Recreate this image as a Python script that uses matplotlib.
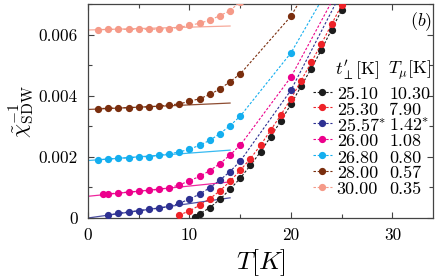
import matplotlib
matplotlib.use("Agg")
import matplotlib.pyplot as plt
from matplotlib.ticker import MultipleLocator, FuncFormatter
from matplotlib.lines import Line2D

plt.rcParams['font.family'] = 'serif'
plt.rcParams['font.serif'] = ['cmr10']
plt.rcParams['mathtext.fontset'] = 'cm'
plt.rcParams['axes.formatter.use_mathtext'] = True

# ---- data ----
tperp_labels = ["25.10", "25.30", "25.57$^{*}$", "26.00", "26.80", "28.00", "30.00"]
tmu_labels = ["10.30", "7.90", "1.42$^{*}$", "1.08", "0.80", "0.57", "0.35"]
colors = ["#1c1c1c", "#ee2228", "#2e3192", "#ec008c", "#14aeef", "#7a2e0e", "#f59a88"]

T_black = [10.5, 11, 12, 13, 14, 15, 16, 17, 18, 19, 20, 21, 22, 23, 24, 25, 26]
y_black = [0.00002, 0.00013, 0.00034, 0.00061, 0.00094, 0.00130, 0.00172, 0.00216,
           0.00266, 0.00317, 0.00372, 0.00431, 0.00489, 0.00550, 0.00616, 0.00680, 0.00744]

T_red = [9, 10, 11, 12, 13, 14, 15, 16, 17, 18, 19, 20, 21, 22, 23, 24, 25, 26]
y_red = [0.00010, 0.00023, 0.00042, 0.00063, 0.00089, 0.00120, 0.00156, 0.00194,
         0.00238, 0.00287, 0.00337, 0.00390, 0.00449, 0.00509, 0.00570, 0.00633, 0.00697, 0.00760]

T_blue = [2, 3, 4, 5, 6, 7, 8, 9, 10, 11, 12, 13, 14, 15, 20, 25]
y_blue = [0.00010, 0.00015, 0.00020, 0.00024, 0.00028, 0.00032, 0.00038, 0.00048,
          0.00062, 0.00078, 0.00099, 0.00124, 0.00152, 0.00186, 0.00418, 0.00740]

T_mag = [1.5, 2, 3, 4, 5, 6, 7, 8, 9, 10, 11, 12, 13, 14, 15, 20, 25]
y_mag = [0.00078, 0.00079, 0.00082, 0.00085, 0.00087, 0.00090, 0.00094, 0.00099,
         0.00108, 0.00122, 0.00136, 0.00155, 0.00178, 0.00206, 0.00238, 0.00461, 0.00768]

T_cyan = [1, 2, 3, 4, 5, 6, 7, 8, 9, 10, 11, 12, 13, 14, 15, 20, 25]
y_cyan = [0.00190, 0.00193, 0.00195, 0.00197, 0.00199, 0.00201, 0.00205, 0.00210,
          0.00216, 0.00225, 0.00238, 0.00254, 0.00276, 0.00302, 0.00333, 0.00540, 0.00826]

T_brown = [1, 2, 3, 4, 5, 6, 7, 8, 9, 10, 11, 12, 13, 14, 15, 20, 25]
y_brown = [0.00358, 0.00359, 0.00360, 0.00361, 0.00362, 0.00364, 0.00366, 0.00370,
           0.00373, 0.00382, 0.00390, 0.00404, 0.00422, 0.00446, 0.00471, 0.00660, 0.00946]

T_salmon = [1, 2, 3, 4, 5, 6, 7, 8, 9, 10, 11, 12, 13, 14, 15]
y_salmon = [0.00616, 0.00617, 0.00617, 0.00617, 0.00617, 0.00617, 0.00618, 0.00619,
            0.00624, 0.00630, 0.00637, 0.00647, 0.00662, 0.00678, 0.00708]

series_T = [T_black, T_red, T_blue, T_mag, T_cyan, T_brown, T_salmon]
series_y = [y_black, y_red, y_blue, y_mag, y_cyan, y_brown, y_salmon]

# low-temperature linear fits
fit_T = [0, 14]
fit_idx = [2, 3, 4, 5, 6]
fit_y = [[0.00000, 0.00066], [0.00071, 0.00118], [0.00188, 0.00222],
         [0.00355, 0.00376], [0.00615, 0.00628]]

xticks = [0, 10, 20, 30]
yticks = [0, 0.002, 0.004, 0.006]

# ---- figure ----
fig = plt.figure(figsize=(4.36, 2.77), dpi=100)
ax = fig.add_axes([88/436, 1-218/277, 345/436, 214/277])

dash = (0, (2.2, 1.6))
for T, y, c in zip(series_T, series_y, colors):
    ax.plot(T, y, linestyle=dash, lw=0.8, color=c, marker='o', ms=4.2,
            mec=c, mfc=c, zorder=3)

for i, fy in zip(fit_idx, fit_y):
    ax.plot(fit_T, fy, '-', lw=0.9, color=colors[i], alpha=0.85, zorder=2)

ax.set_xlim(0, 34)
ax.set_ylim(0, 0.007)
ax.set_xticks(xticks)
ax.set_yticks(yticks)
ax.xaxis.set_minor_locator(MultipleLocator(5))
ax.yaxis.set_minor_locator(MultipleLocator(0.001))
ax.yaxis.set_major_formatter(FuncFormatter(lambda v, p: '0' if abs(v) < 1e-12 else f'{v:.3f}'))
ax.xaxis.set_major_formatter(FuncFormatter(lambda v, p: f'{v:g}'))
ax.tick_params(which='both', direction='in', top=True, right=True, labelsize=12.4,
               color='#444444', width=0.8)
ax.tick_params(which='major', length=4)
ax.tick_params(which='minor', length=3)
ax.tick_params(axis='y', pad=7.5)
ax.tick_params(axis='x', pad=7)
for s in ax.spines.values():
    s.set_color('#444444')
    s.set_linewidth(0.9)

ax.set_xlabel(r'$T[K]$', fontsize=18.5, labelpad=3)
ax.set_ylabel(r'$\tilde{\chi}^{-1}_{\mathrm{SDW}}$', fontsize=16, labelpad=2)

ax.text(0.997, 0.972, r'$(b)$', transform=ax.transAxes, ha='right', va='top', fontsize=13)

# ---- legend (two text columns) ----
row_y = [0.585, 0.512, 0.438, 0.364, 0.288, 0.215, 0.139]
ax.text(0.716, 0.692, r"$t_{\perp}^{\prime}[\mathrm{K}]$", transform=ax.transAxes,
        ha='left', va='center', fontsize=13)
ax.text(0.870, 0.692, r"$T_{\mu}[\mathrm{K}]$", transform=ax.transAxes,
        ha='left', va='center', fontsize=13)
for yy, c, l1, l2 in zip(row_y, colors, tperp_labels, tmu_labels):
    ln = Line2D([0.653, 0.706], [yy + 0.006, yy + 0.006], transform=ax.transAxes,
                linestyle=dash, lw=0.8, color=c, clip_on=False)
    mk = Line2D([0.679], [yy + 0.006], transform=ax.transAxes, marker='o', ms=4.2,
                color=c, linestyle='none', clip_on=False)
    ax.add_line(ln)
    ax.add_line(mk)
    ax.text(0.721, yy, l1, transform=ax.transAxes, ha='left', va='center_baseline', fontsize=13)
    ax.text(0.873, yy, l2, transform=ax.transAxes, ha='left', va='center_baseline', fontsize=13)

fig.savefig('out.png', dpi=100)
